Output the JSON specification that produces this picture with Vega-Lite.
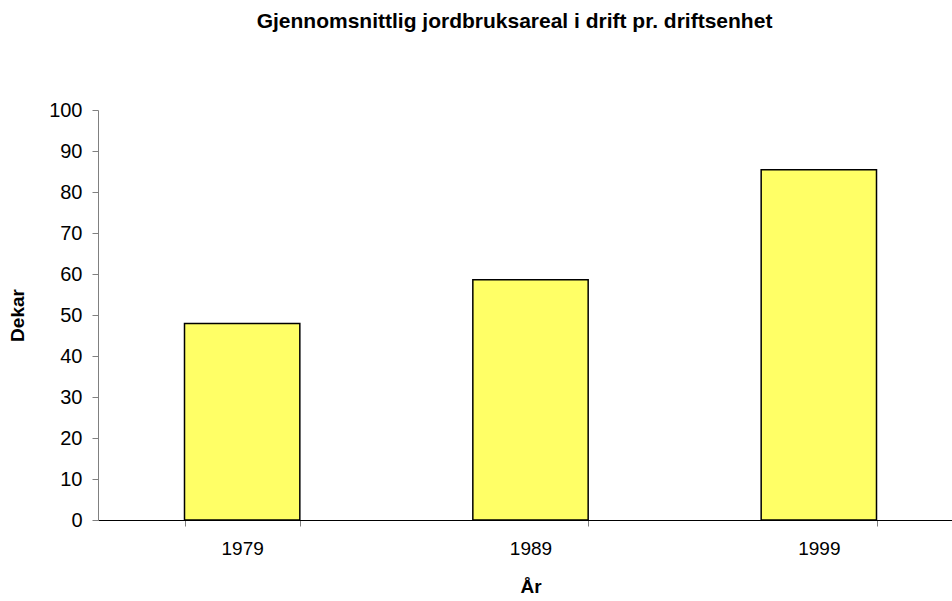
{
  "$schema": "https://vega.github.io/schema/vega-lite/v6.json",
  "autosize": {"type": "none"},
  "padding": {"left": 98, "top": 110, "right": 0, "bottom": 81},
  "width": 865,
  "height": 410,
  "background": "white",
  "title": {
    "text": "Gjennomsnittlig jordbruksareal i drift pr. driftsenhet",
    "font": "Liberation Sans",
    "fontSize": 21,
    "fontWeight": "bold",
    "color": "black",
    "anchor": "middle",
    "frame": "group",
    "dx": -16,
    "offset": 68
  },
  "config": {
    "view": {"stroke": null},
    "axis": {"grid": false, "labelFont": "Liberation Sans", "titleFont": "Liberation Sans", "labelColor": "black", "titleColor": "black"}
  },
  "data": {"values": [
    {"year": "1979", "dekar": 47.9},
    {"year": "1989", "dekar": 58.6},
    {"year": "1999", "dekar": 85.4}
  ]},
  "mark": {"type": "bar", "fill": "#FFFF66", "stroke": "black", "strokeWidth": 1.5},
  "encoding": {
    "x": {
      "field": "year", "type": "nominal",
      "scale": {"paddingInner": 0.6, "paddingOuter": 0.3},
      "axis": {
        "title": "År", "titleFontSize": 19, "titleFontWeight": "bold", "titlePadding": 19,
        "labelAngle": 0, "labelFontSize": 19, "labelPadding": 13,
        "tickBand": "extent", "tickSize": 6, "tickColor": "#808080",
        "domainColor": "black", "domainWidth": 1
      }
    },
    "y": {
      "field": "dekar", "type": "quantitative",
      "scale": {"domain": [0, 100]},
      "axis": {
        "title": "Dekar", "titleFontSize": 19, "titleFontWeight": "bold", "titlePadding": 21,
        "values": [0,10,20,30,40,50,60,70,80,90,100],
        "labelFontSize": 20, "labelPadding": 10,
        "tickSize": 6, "tickColor": "#808080", "domainColor": "#808080"
      }
    }
  }
}
